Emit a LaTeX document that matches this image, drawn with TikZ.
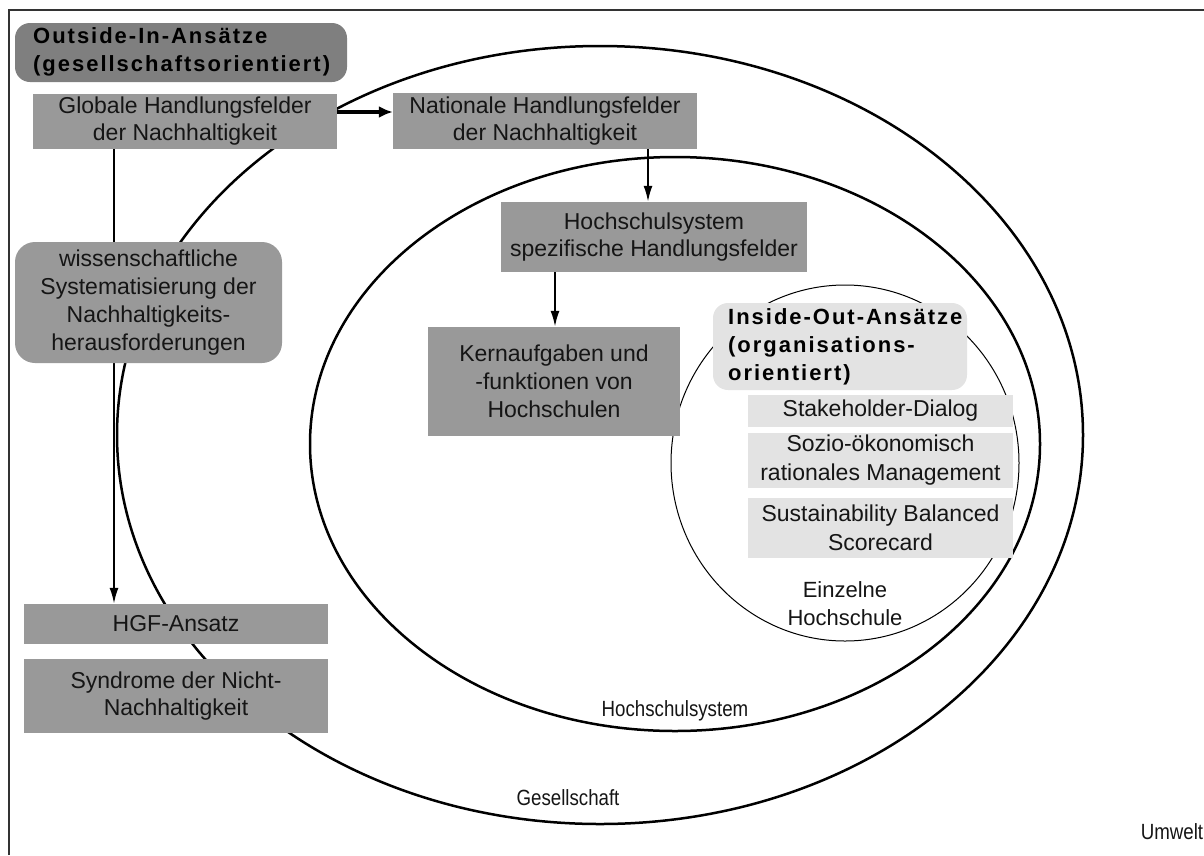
\documentclass[tikz,border=0pt]{standalone}
\usepackage{fontspec}
\setmainfont{Liberation Sans}
\newfontfamily\titlefont{Liberation Sans}[LetterSpace=9]
\newfontfamily\narrowfont{Liberation Sans}[FakeStretch=0.85]
\usetikzlibrary{arrows.meta,backgrounds}

\definecolor{boxgray}{HTML}{999999}
\definecolor{titlegray}{HTML}{7F7F7F}
\definecolor{palegray}{HTML}{E3E3E3}
\definecolor{ink}{HTML}{151515}
\definecolor{framecol}{HTML}{333333}

\tikzset{
  darkbox/.style={fill=boxgray, inner sep=0pt, align=center, text=ink},
  palebox/.style={fill=palegray, inner sep=0pt, align=center, text=ink},
  roundbox/.style={fill=#1, rounded corners=15pt, inner sep=0pt},
  titletext/.style={inner sep=0pt, align=left, text=black,
    font=\titlefont\bfseries\fontsize{22}{28}\selectfont},
  ring/.style={draw=black, line width=2.5pt},
  thinring/.style={draw=black, line width=1pt},
  flow/.style={line width=2pt, -{Latex[length=16pt,width=9pt]}},
  boldflow/.style={line width=3.5pt, -{Latex[length=14pt,width=12pt]}},
  label/.style={inner sep=0pt, text=ink, font=\narrowfont\fontsize{22}{26}\selectfont}
}

\begin{document}
\begin{tikzpicture}[x=1pt, y=-1pt, font=\fontsize{23}{27}\selectfont]
\useasboundingbox (0,0) rectangle (1204,855);

% outer frame (Umwelt)
\draw[framecol, line width=1.5pt] (9,855) -- (9,10) -- (1204,10);

% nested spheres
\draw[ring] (600,435) ellipse [x radius=483, y radius=389];
\draw[ring] (675,444) ellipse [x radius=365, y radius=287];
\draw[thinring] (845,463) ellipse [x radius=174, y radius=178];

% outside-in column
\node[roundbox=titlegray, minimum width=332pt, minimum height=59pt] (outin) at (181,52.5) {};
\node[titletext, anchor=west] (outintxt) at (33,52) {Outside-In-Ansätze\\(gesellschaftsorientiert)};

\node[darkbox, minimum width=304pt, minimum height=55pt] (glob) at (185,121.5)
  {Globale Handlungsfelder\\der Nachhaltigkeit};
\node[darkbox, minimum width=304pt, minimum height=56pt] (nat) at (545,121)
  {Nationale Handlungsfelder\\der Nachhaltigkeit};
\node[darkbox, minimum width=306pt, minimum height=70pt] (hs) at (654,237)
  {Hochschulsystem\\spezifische Handlungsfelder};
\node[darkbox, minimum width=252pt, minimum height=109pt, font=\fontsize{23}{28}\selectfont] (kern) at (554,381.5)
  {Kernaufgaben und\\-funktionen von\\Hochschulen};

\node[darkbox, roundbox=boxgray, minimum width=267pt, minimum height=121pt, rounded corners=20pt,
  font=\fontsize{23}{28}\selectfont] (wiss) at (148.5,302.5)
  {wissenschaftliche\\Systematisierung der\\Nachhaltigkeits-\\herausforderungen};

\node[darkbox, minimum width=304pt, minimum height=40pt] (hgf) at (176,624) {HGF-Ansatz};
\node[darkbox, minimum width=304pt, minimum height=74pt] (syn) at (176,696)
  {Syndrome der Nicht-\\Nachhaltigkeit};

% inside-out column
\node[roundbox=palegray, minimum width=254pt, minimum height=87pt] (inout) at (840,346.5) {};
\node[titletext, anchor=west] (inouttxt) at (728,347) {Inside-Out-Ansätze\\(organisations-\\orientiert)};

\node[palebox, minimum width=265pt, minimum height=32pt] (stake) at (880.5,411) {Stakeholder-Dialog};
\node[palebox, minimum width=265pt, minimum height=55pt, font=\fontsize{23}{29}\selectfont] (sozio) at (880.5,460.5)
  {Sozio-ökonomisch\\rationales Management};
\node[palebox, minimum width=265pt, minimum height=60pt, font=\fontsize{23}{29}\selectfont] (sbsc) at (880.5,528)
  {Sustainability Balanced\\Scorecard};

% sphere labels
\node[inner sep=0pt, align=center, text=ink, font=\fontsize{22}{28}\selectfont] (einz) at (845,604)
  {Einzelne\\Hochschule};
\node[label] (hslab) at (675,711) {Hochschulsystem};
\node[label] (gslab) at (568,798) {Gesellschaft};
\node[label] (uwlab) at (1172,832) {Umwelt};

% connectors
\coordinate (gx) at (114,0);
\coordinate (nx) at (648,0);
\coordinate (kx) at (555,0);
\begin{scope}[on background layer]
  \draw[flow] (gx |- glob.south) -- (gx |- hgf.north);
\end{scope}
\draw[boldflow] ([yshift=9.5pt]glob.east) -- ([yshift=9pt]nat.west);
\draw[flow] (nx |- nat.south) -- (nx |- hs.north);
\draw[flow] (kx |- hs.south) -- (kx |- kern.north);
\end{tikzpicture}
\end{document}
